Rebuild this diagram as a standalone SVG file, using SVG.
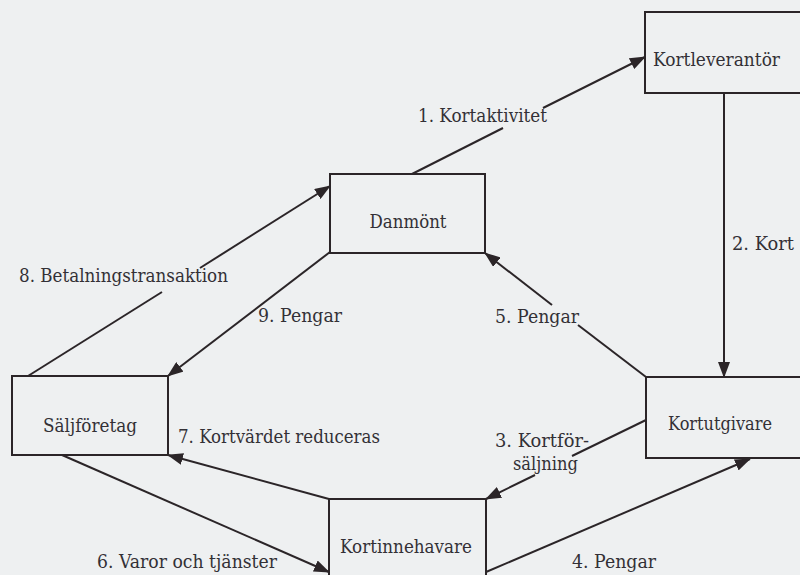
<svg xmlns="http://www.w3.org/2000/svg" width="800" height="575" viewBox="0 0 800 575">
<style>
.box{fill:none;stroke:#2b2528;stroke-width:2}
.ln{fill:none;stroke:#2b2528;stroke-width:2}
text{font-family:'DejaVu Serif','Liberation Serif',serif;font-size:18px;fill:#333036}
.c{text-anchor:middle}
</style>
<defs>
<marker id="ah" markerUnits="userSpaceOnUse" markerWidth="16" markerHeight="12" refX="15" refY="6" orient="auto">
<path d="M0,0 L16,6 L0,12 z" fill="#2b2528"/>
</marker>
</defs>
<rect width="800" height="575" fill="#eef0f1"/>
<g id="connectors">
<path class="ln" d="M412,174 L503,128"/>
<path class="ln" d="M543,108 L645,57" marker-end="url(#ah)"/>
<path class="ln" d="M724,93 L724,377" marker-end="url(#ah)"/>
<path class="ln" d="M28,376 L162,292"/>
<path class="ln" d="M200,268 L330,186" marker-end="url(#ah)"/>
<path class="ln" d="M330,252 L168,376" marker-end="url(#ah)"/>
<path class="ln" d="M646,377 L578,325"/>
<path class="ln" d="M552,305 L485,253" marker-end="url(#ah)"/>
<path class="ln" d="M646,420 L572,456"/>
<path class="ln" d="M535,475 L486,499" marker-end="url(#ah)"/>
<path class="ln" d="M329,499 L168,455" marker-end="url(#ah)"/>
<path class="ln" d="M62,455 L329,572" marker-end="url(#ah)"/>
<path class="ln" d="M486,572 L750,459" marker-end="url(#ah)"/>
<text x="418" y="122" textLength="129" lengthAdjust="spacingAndGlyphs">1. Kortaktivitet</text>
<text x="732" y="250" textLength="62" lengthAdjust="spacingAndGlyphs">2. Kort</text>
<text x="19" y="282" textLength="209" lengthAdjust="spacingAndGlyphs">8. Betalningstransaktion</text>
<text x="258" y="322" textLength="84" lengthAdjust="spacingAndGlyphs">9. Pengar</text>
<text x="495" y="323" textLength="84" lengthAdjust="spacingAndGlyphs">5. Pengar</text>
<text x="178" y="443" textLength="202" lengthAdjust="spacingAndGlyphs">7. Kortvärdet reduceras</text>
<text x="495" y="447" textLength="94" lengthAdjust="spacingAndGlyphs">3. Kortför-</text>
<text x="513" y="470" textLength="65" lengthAdjust="spacingAndGlyphs">säljning</text>
<text x="97" y="568" textLength="180" lengthAdjust="spacingAndGlyphs">6. Varor och tjänster</text>
<text x="572" y="568" textLength="84" lengthAdjust="spacingAndGlyphs">4. Pengar</text>
</g>
<g id="kortleverantor">
<rect class="box" x="645" y="12" width="170" height="81"/>
<text x="653" y="66" textLength="127" lengthAdjust="spacingAndGlyphs">Kortleverantör</text>
</g>
<g id="danmont">
<rect class="box" x="330" y="174" width="155" height="79"/>
<text class="c" x="408" y="228" textLength="77" lengthAdjust="spacingAndGlyphs">Danmönt</text>
</g>
<g id="saljforetag">
<rect class="box" x="12" y="376" width="156" height="79"/>
<text class="c" x="90" y="432" textLength="94" lengthAdjust="spacingAndGlyphs">Säljföretag</text>
</g>
<g id="kortutgivare">
<rect class="box" x="646" y="377" width="170" height="81"/>
<text class="c" x="720" y="430" textLength="104" lengthAdjust="spacingAndGlyphs">Kortutgivare</text>
</g>
<g id="kortinnehavare">
<rect class="box" x="329" y="499" width="157" height="100"/>
<text class="c" x="406" y="553" textLength="132" lengthAdjust="spacingAndGlyphs">Kortinnehavare</text>
</g>
</svg>
